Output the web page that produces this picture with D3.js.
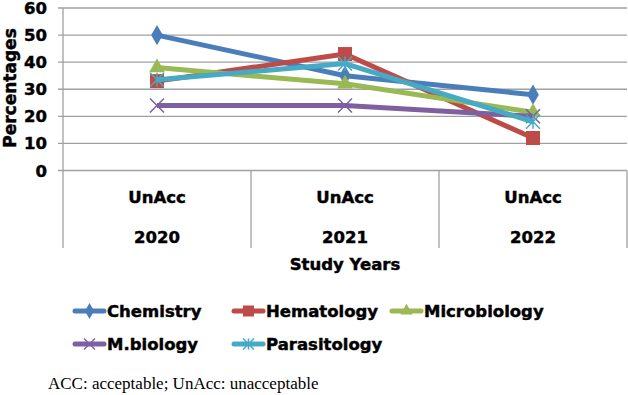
<!DOCTYPE html>
<html><head><meta charset="utf-8">
<script src="https://cdn.jsdelivr.net/npm/d3@7"></script>
<style>body{margin:0;background:#fff}svg{display:block}.b{stroke:#000;stroke-width:0.45px}</style>
</head><body>
<svg id="c" width="628" height="395"></svg>
<script>
const years = ["2020", "2021", "2022"];
const levels = ["UnAcc", "UnAcc", "UnAcc"];
const yTicks = [0, 10, 20, 30, 40, 50, 60];
const seriesNames = ["Chemistry", "Hematology", "Microbiology", "M.biology", "Parasitology"];
const chemistry = [50, 35, 28];
const hematology = [33, 43, 12];
const microbiology = [38, 32, 21.5];
const mbiology = [24, 24, 20];
const parasitology = [33.5, 39.5, 18];
const seriesValues = [chemistry, hematology, microbiology, mbiology, parasitology];
const colors = ["#4A7EBB", "#BE4B48", "#98B954", "#7D60A0", "#46AAC5"];
const markers = ["diamond", "square", "triangle", "x", "star"];

const svg = d3.select("#c");
const L = 63, R = 627, T = 8, B = 170.5;
const x = d3.scaleBand().domain(years).range([L, R]);
const y = d3.scaleLinear().domain([0, 60]).range([B, T]);
const font = "DejaVu Sans, Verdana, sans-serif";
const grid = "#a0a0a0";

svg.append("g").selectAll("line").data(yTicks).join("line")
  .attr("x1", L - 5).attr("x2", R).attr("y1", d => y(d)).attr("y2", d => y(d))
  .attr("stroke", grid).attr("stroke-width", 1.3);
svg.append("line").attr("x1", L).attr("x2", L).attr("y1", T).attr("y2", 248)
  .attr("stroke", grid).attr("stroke-width", 1.3);
svg.append("g").selectAll("text").data(yTicks).join("text").attr("class", "b")
  .attr("x", 47).attr("y", d => y(d) + 6).attr("text-anchor", "end")
  .attr("font-family", font).attr("font-weight", "bold").attr("font-size", 16.5)
  .text(d => d);
svg.append("text").attr("class", "b").attr("transform", `translate(16,88) rotate(-90)`)
  .attr("text-anchor", "middle").attr("font-family", font).attr("font-weight", "bold")
  .attr("font-size", 17).text("Percentages");

svg.append("g").selectAll("line").data([x("2021"), x("2022"), R]).join("line")
  .attr("x1", d => d).attr("x2", d => d)
  .attr("y1", B).attr("y2", 248).attr("stroke", grid).attr("stroke-width", 1.3);
svg.append("g").selectAll("text").data(levels).join("text").attr("class", "b")
  .attr("x", (d, i) => x(years[i]) + x.bandwidth() / 2).attr("y", 203)
  .attr("text-anchor", "middle").attr("font-family", font).attr("font-weight", "bold")
  .attr("font-size", 16.5).text(d => d);
svg.append("g").selectAll("text").data(years).join("text").attr("class", "b")
  .attr("x", d => x(d) + x.bandwidth() / 2).attr("y", 243)
  .attr("text-anchor", "middle").attr("font-family", font).attr("font-weight", "bold")
  .attr("font-size", 16.5).text(d => d);
svg.append("text").attr("class", "b").attr("x", x("2021") + x.bandwidth() / 2).attr("y", 270).attr("text-anchor", "middle")
  .attr("font-family", font).attr("font-weight", "bold").attr("font-size", 16.5).text("Study Years");

function drawMarker(g, type, color, cx, cy, s) {
  if (type === "diamond") {
    g.append("path").attr("d", d3.symbol(d3.symbolDiamond, s * s * 0.6)()).attr("transform", `translate(${cx},${cy})`).attr("fill", color);
  } else if (type === "square") {
    g.append("rect").attr("x", cx - s / 2).attr("y", cy - s / 2).attr("width", s).attr("height", s).attr("fill", color);
  } else if (type === "triangle") {
    g.append("path").attr("d", d3.symbol(d3.symbolTriangle, s * s * 0.55)()).attr("transform", `translate(${cx},${cy})`).attr("fill", color);
  } else if (type === "x") {
    const h = s / 2;
    g.append("path").attr("d", `M${cx - h},${cy - h}L${cx + h},${cy + h}M${cx - h},${cy + h}L${cx + h},${cy - h}`).attr("stroke", color).attr("stroke-width", 1.5);
  } else if (type === "star") {
    const h = s / 2;
    g.append("path").attr("d", `M${cx - h},${cy - h}L${cx + h},${cy + h}M${cx - h},${cy + h}L${cx + h},${cy - h}M${cx},${cy - h}L${cx},${cy + h}`).attr("stroke", color).attr("stroke-width", 1.5);
  }
}

const line = d3.line().x((d, i) => x(years[i]) + x.bandwidth() / 2).y(d => y(d));
seriesValues.forEach((vals, k) => {
  const g = svg.append("g");
  g.append("path").attr("d", line(vals)).attr("fill", "none").attr("stroke", colors[k])
    .attr("stroke-width", 5).attr("stroke-linejoin", "round");
  vals.forEach((v, i) => drawMarker(g, markers[k], colors[k], x(years[i]) + x.bandwidth() / 2, y(v), 14));
});

const legPos = [[73, 317], [232, 317], [390, 317], [73, 350], [232, 350]];
seriesNames.forEach((n, k) => {
  const g = svg.append("g");
  const [lx, ly] = legPos[k];
  const cy = ly - 6;
  g.append("line").attr("x1", lx + 2).attr("x2", lx + 31).attr("y1", cy).attr("y2", cy)
    .attr("stroke", colors[k]).attr("stroke-width", 5).attr("stroke-linecap", "round");
  drawMarker(g, markers[k], colors[k], lx + 16.5, cy, 11);
  g.append("text").attr("class", "b").attr("x", lx + 34).attr("y", ly).attr("font-family", font)
    .attr("font-weight", "bold").attr("font-size", 16.5).text(n);
});

svg.append("text").attr("x", 48).attr("y", 389).attr("font-family", "Liberation Serif, Times New Roman, serif")
  .attr("font-size", 17).text("ACC: acceptable; UnAcc: unacceptable");
</script>
</body></html>
